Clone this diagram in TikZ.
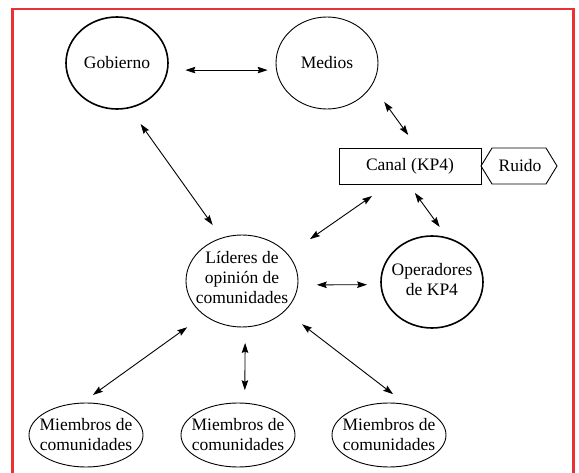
\documentclass[tikz,border=0pt]{standalone}
\usepackage{fontspec}
\setmainfont{Liberation Serif}
\usetikzlibrary{arrows.meta,shapes.geometric}
\definecolor{frame}{RGB}{234,50,52}
\begin{document}
\begin{tikzpicture}[x=1pt,y=-1pt,
  thinell/.style={ellipse,draw,line width=0.9pt,inner sep=0pt,outer sep=0pt},
  thickell/.style={ellipse,draw,line width=1.6pt,inner sep=0pt,outer sep=0pt},
  txt/.style={font=\fontsize{17.5}{20}\selectfont,align=center,inner sep=0pt},
  arr/.style={{Stealth[length=10pt,width=6.5pt,inset=1.5pt]}-{Stealth[length=10pt,width=6.5pt,inset=1.5pt]},line width=0.9pt}]
\useasboundingbox (0,0) rectangle (579,473);
\draw[frame,line width=2.5pt] (12.5,474) -- (12.5,9) -- (573.5,9) -- (573.5,474);

\node[thickell,minimum width=102pt,minimum height=92pt] (gob) at (117,63) {};
\node[txt] (gobt) at (gob) {Gobierno};
\node[thinell,minimum width=102pt,minimum height=92pt] (med) at (327,63) {};
\node[txt] (medt) at (med) {Medios};
\node[txt,draw,line width=0.9pt,minimum width=142pt,minimum height=36pt,outer sep=0pt] (canal) at (410,166) {Canal (KP4)};
\node[txt] (ruido) at (520,166) {Ruido};
\draw[line width=0.9pt] (canal.east) -- ++(11,-18) -- ++(54,0) -- ++(11,18) -- ++(-11,18) -- ++(-54,0) -- cycle;

\node[thinell,minimum width=112pt,minimum height=92pt] (lid) at (242,281) {};
\node[txt] (lidt) at (242,278) {Líderes de\\opinión de\\comunidades};
\node[thickell,minimum width=102pt,minimum height=92pt] (ope) at (432,282) {};
\node[txt] (opet) at (432,280) {Operadores\\de KP4};

\node[thinell,minimum width=114pt,minimum height=64pt] (m1) at (86,435) {};
\node[txt] (m1t) at (m1) {Miembros de\\comunidades};
\node[thinell,minimum width=114pt,minimum height=64pt] (m2) at (238,435) {};
\node[txt] (m2t) at (m2) {Miembros de\\comunidades};
\node[thinell,minimum width=114pt,minimum height=64pt] (m3) at (389,435) {};
\node[txt] (m3t) at (m3) {Miembros de\\comunidades};

\draw[arr,shorten <=18pt,shorten >=9pt] (gob.-8) -- (med.188);
\draw[arr,shorten <=21pt,shorten >=16pt] (med.-26) -- (canal.67);
\draw[arr,shorten <=20pt,shorten >=16pt] (gob.-75) -- (lid.115);
\draw[arr,shorten <=21pt,shorten >=27pt] (canal.221) -- (lid.30);
\draw[arr,shorten <=11pt,shorten >=14pt] (canal.265) -- (ope.70);
\draw[arr,shorten <=19pt,shorten >=14pt] (lid.-4) -- (ope.183);
\draw[arr,shorten <=21pt,shorten >=14pt] (lid.222) -- (m1.98);
\draw[arr,shorten <=16pt,shorten >=13pt] (lid.-86) -- (m2.78);
\draw[arr,shorten <=22pt,shorten >=17pt] (lid.-35) -- (m3.60);
\end{tikzpicture}
\end{document}
